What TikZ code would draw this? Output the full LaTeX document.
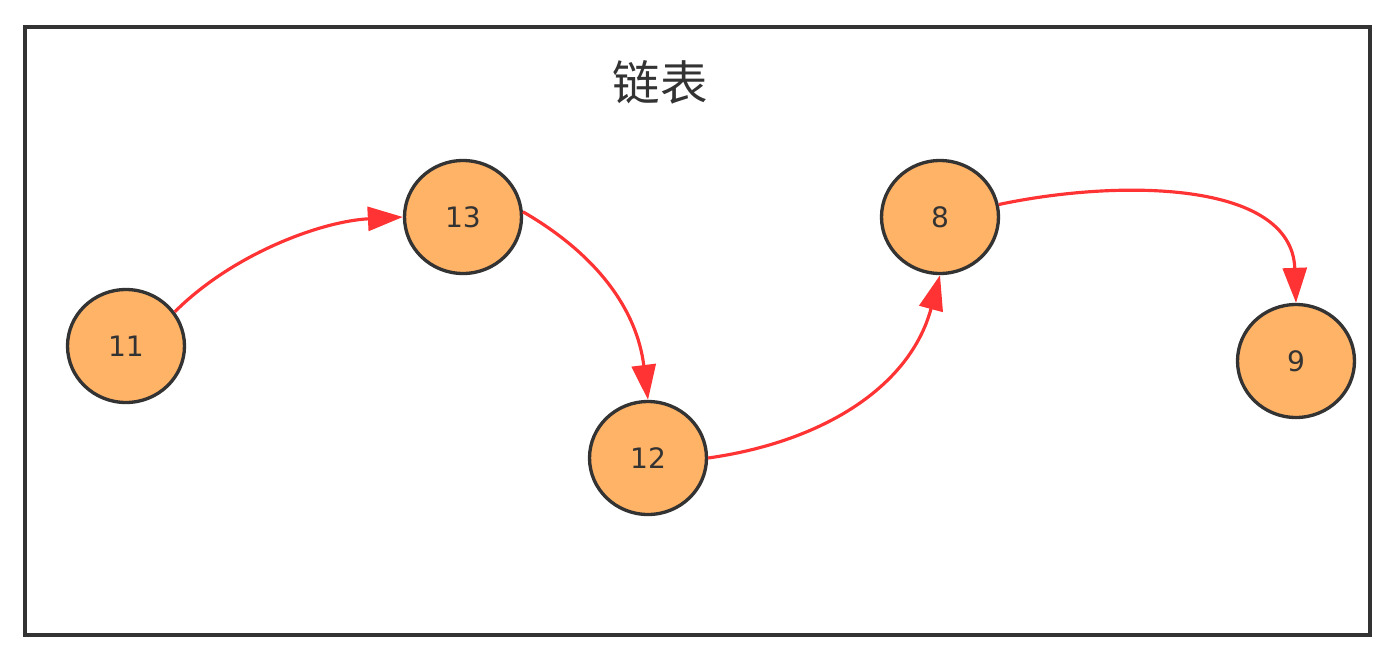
\documentclass[tikz,border=0pt]{standalone}
\usepackage{fontspec}
\setmainfont{DejaVu Sans}
\newfontfamily\cjk{Noto Sans CJK SC}
\usetikzlibrary{arrows.meta,shapes.geometric}
\definecolor{nodefill}{HTML}{FFB366}
\definecolor{edgecol}{HTML}{333333}
\definecolor{linkred}{HTML}{FF3333}
\tikzset{
  listnode/.style={ellipse, draw=edgecol, fill=nodefill, line width=1.9pt,
    minimum width=2.34cm, minimum height=2.26cm, inner sep=0pt,
    font=\fontsize{16}{19}\selectfont, text=edgecol},
  link/.style={draw=linkred, line width=1.8pt,
    -{Triangle[length=0.7cm,width=0.48cm]}}
}
\begin{document}
\begin{tikzpicture}[x=0.02cm,y=-0.02cm]
\useasboundingbox (0,0) rectangle (1400,660);
\node[draw=edgecol, line width=1.9pt, minimum width=26.9cm, minimum height=12.16cm, inner sep=0pt] (frame) at (697.5,331) {};
\node[text=edgecol, font=\cjk\fontsize{27}{30}\selectfont] (title) at (660,82) {链表};
\node[listnode] (n11) at (126,346) {11};
\node[listnode] (n13) at (463,217) {13};
\node[listnode] (n12) at (648,458) {12};
\node[listnode] (n8)  at (940,217) {8};
\node[listnode] (n9)  at (1296,361) {9};
\draw[link] (n11.35) to[out=45,in=183,looseness=0.85] (n13.west);
\draw[link] (n13.5) to[out=-30,in=97] (n12.north);
\draw[link] (n12.east) to[out=8,in=-105] (n8.south);
\draw[link] (n8.12) to[out=12,in=92] (n9.north);
\end{tikzpicture}
\end{document}
